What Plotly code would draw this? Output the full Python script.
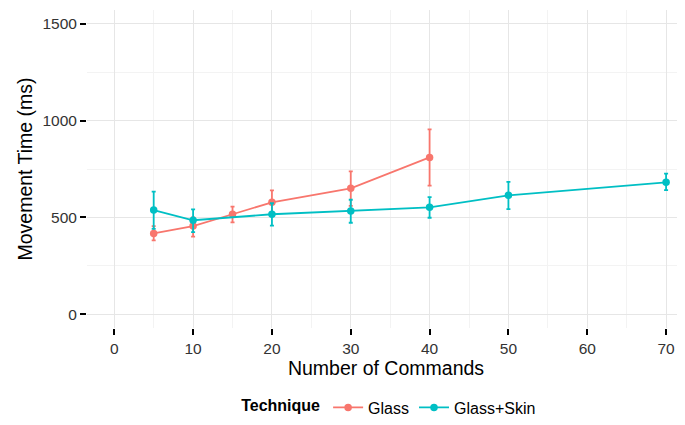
import plotly.graph_objects as go

# Movement time by number of commands, per technique
glass_x = [5, 10, 15, 20, 30, 40]
glass_y = [417, 455, 516, 578, 650, 810]
glass_hi = [455, 500, 555, 640, 738, 955]
glass_lo = [381, 400, 474, 525, 559, 664]

skin_x = [5, 10, 20, 30, 40, 50, 70]
skin_y = [538, 485, 516, 533, 552, 614, 681]
skin_hi = [633, 541, 573, 591, 605, 683, 726]
skin_lo = [440, 424, 457, 472, 498, 543, 641]

x_ticks = [0, 10, 20, 30, 40, 50, 60, 70]
y_ticks = [0, 500, 1000, 1500]

COLOURS = {"Glass": "#F8766D", "Glass+Skin": "#00BFC4"}


def add_series(fig, name, x, y, hi, lo):
    fig.add_trace(go.Scatter(
        x=x, y=y,
        mode="lines+markers",
        name=name,
        line=dict(color=COLOURS[name], width=1.8),
        marker=dict(color=COLOURS[name], size=7.5),
        error_y=dict(
            type="data", symmetric=False,
            array=[h - v for h, v in zip(hi, y)],
            arrayminus=[v - l for v, l in zip(y, lo)],
            color=COLOURS[name], thickness=1.8, width=2,
        ),
    ))


fig = go.Figure()
add_series(fig, "Glass", glass_x, glass_y, glass_hi, glass_lo)
add_series(fig, "Glass+Skin", skin_x, skin_y, skin_hi, skin_lo)

axis_common = dict(
    showline=False, zeroline=False, automargin=False,
    ticks="outside", ticklen=6, tickwidth=2, tickcolor="black",
    tickfont=dict(size=15.5, color="#333333"),
    gridcolor="#E6E6E6", gridwidth=1.3,
    title_font=dict(size=19.5, color="black"),
)

fig.update_xaxes(
    range=[-3.46, 72.4], tickvals=x_ticks,
    title_text="Number of Commands", title_standoff=0,
    minor=dict(showgrid=True, gridcolor="#F3F3F3", gridwidth=1, dtick=5, tick0=5),
    **axis_common,
)
fig.update_yaxes(
    range=[-72, 1572], tickvals=y_ticks,
    title_text="Movement Time (ms)", title_standoff=4,
    minor=dict(showgrid=True, gridcolor="#F3F3F3", gridwidth=1, dtick=250, tick0=250),
    **axis_common,
)

# page body adds an 8px offset, so the figure is sized to end at the window edge
fig.update_layout(
    width=677, height=417,
    plot_bgcolor="white", paper_bgcolor="white",
    font=dict(family="Liberation Sans, Arial, sans-serif", color="black"),
    margin=dict(l=79, r=0, t=2, b=97),
    legend=dict(
        orientation="h", x=0.507, xanchor="center", y=-0.25, yanchor="middle",
        title=dict(text="<b>Technique</b>", font=dict(size=16)),
        font=dict(size=16),
        itemwidth=30,
    ),
)

fig.write_html("out.html")
